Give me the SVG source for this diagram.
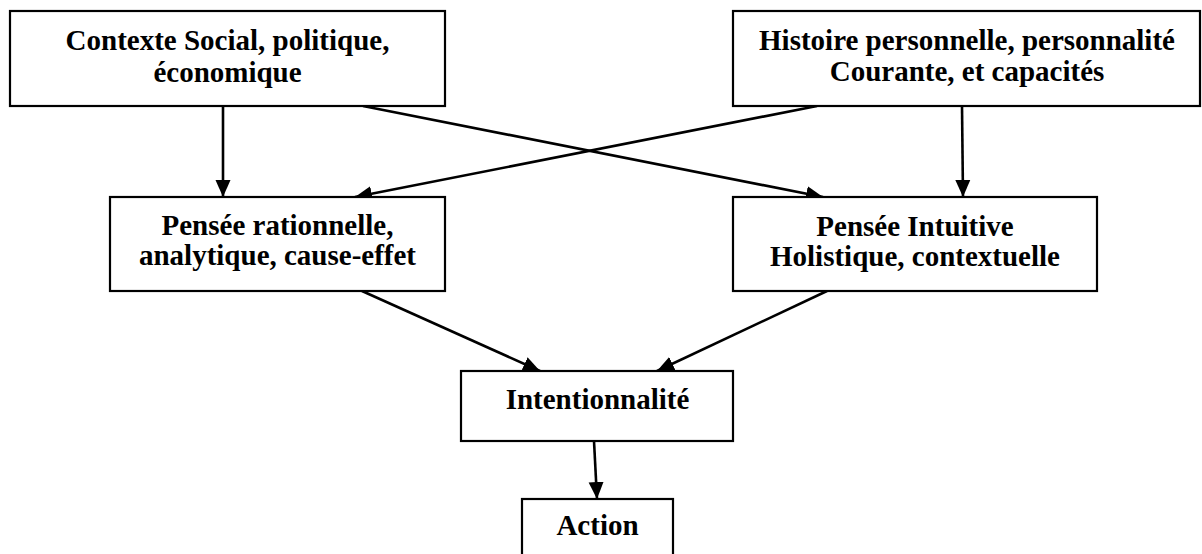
<svg xmlns="http://www.w3.org/2000/svg" width="1202" height="554" viewBox="0 0 1202 554">
  <style>
    .box { fill: #ffffff; stroke: #000000; stroke-width: 2.2; }
    .label { font-family: "Liberation Serif", "Times New Roman", serif; font-weight: bold; font-size: 29px; fill: #000000; text-anchor: middle; }
    .edge { stroke: #000000; stroke-width: 2.6; fill: none; marker-end: url(#arrow); }
  </style>
  <defs>
    <marker id="arrow" markerUnits="userSpaceOnUse" markerWidth="18" markerHeight="16" refX="17" refY="8" orient="auto">
      <path d="M0,0.5 L17,8 L0,15.5 z" fill="#000000"/>
    </marker>
  </defs>
  <rect width="1202" height="554" fill="#ffffff"/>

  <g id="connectors">
    <line class="edge" x1="223" y1="106" x2="223" y2="197"/>
    <line class="edge" x1="962" y1="106" x2="963" y2="197"/>
    <line class="edge" x1="363" y1="106" x2="823" y2="197"/>
    <line class="edge" x1="817" y1="106" x2="355" y2="197"/>
    <line class="edge" x1="362" y1="291" x2="540" y2="371"/>
    <line class="edge" x1="827" y1="291" x2="657" y2="371"/>
    <line class="edge" x1="594" y1="441" x2="597" y2="499"/>
  </g>

  <g id="contexte">
    <rect class="box" x="10" y="11" width="435" height="95"/>
    <text class="label" x="227.5" y="50">Contexte Social, politique,</text>
    <text class="label" x="227.5" y="82">économique</text>
  </g>

  <g id="histoire">
    <rect class="box" x="733" y="11" width="467" height="95"/>
    <text class="label" x="967" y="50">Histoire personnelle, personnalité</text>
    <text class="label" x="967" y="81">Courante, et capacités</text>
  </g>

  <g id="pensee-rationnelle">
    <rect class="box" x="110" y="197" width="335" height="94"/>
    <text class="label" x="277.5" y="235">Pensée rationnelle,</text>
    <text class="label" x="277.5" y="265">analytique, cause-effet</text>
  </g>

  <g id="pensee-intuitive">
    <rect class="box" x="733" y="197" width="364" height="94"/>
    <text class="label" x="915" y="236">Pensée Intuitive</text>
    <text class="label" x="915" y="266">Holistique, contextuelle</text>
  </g>

  <g id="intentionnalite">
    <rect class="box" x="461" y="371" width="272" height="70"/>
    <text class="label" x="597.5" y="409">Intentionnalité</text>
  </g>

  <g id="action">
    <rect class="box" x="522" y="499" width="151" height="60"/>
    <text class="label" x="597.5" y="535">Action</text>
  </g>
</svg>
